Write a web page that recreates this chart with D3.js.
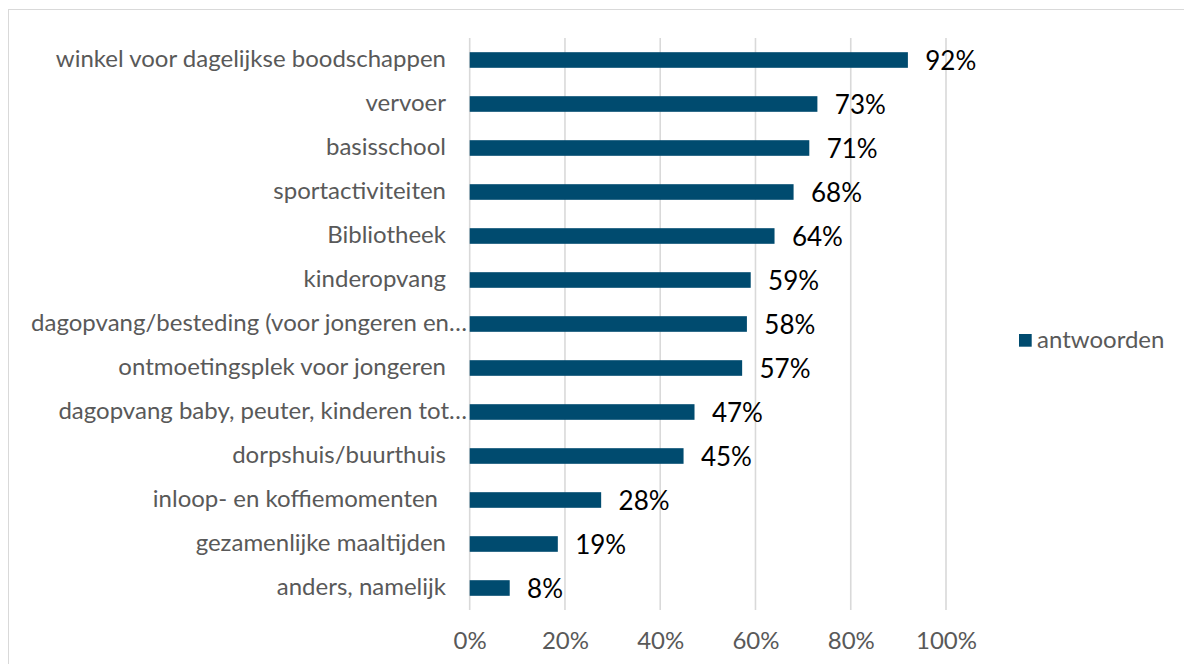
<!DOCTYPE html>
<html>
<head>
<meta charset="utf-8">
<script src="https://cdn.jsdelivr.net/npm/d3@7"></script>
<style>
  html, body { margin: 0; padding: 0; background: #fff; }
  svg { display: block; font-family: Lato, "Open Sans", sans-serif; }
</style>
</head>
<body>
<svg id="chart" width="1184" height="664"></svg>
<script>
const categories = [
  "winkel voor dagelijkse boodschappen",
  "vervoer",
  "basisschool",
  "sportactiviteiten",
  "Bibliotheek",
  "kinderopvang",
  "dagopvang/besteding (voor jongeren en…",
  "ontmoetingsplek voor jongeren",
  "dagopvang baby, peuter, kinderen tot…",
  "dorpshuis/buurthuis",
  "inloop- en koffiemomenten ",
  "gezamenlijke maaltijden",
  "anders, namelijk"
];
const values = [92, 73, 71.3, 68, 64, 59, 58.2, 57.2, 47.2, 44.9, 27.6, 18.5, 8.4];
const tickValues = [0, 20, 40, 60, 80, 100];
const seriesName = "antwoorden";

const svg = d3.select("#chart");
const barColor = "#004b6f";
const textGray = "#595959";
const gridColor = "#d9d9d9";

// chart border
svg.append("rect")
  .attr("x", 8.5).attr("y", 9.5)
  .attr("width", 1200).attr("height", 700)
  .attr("fill", "none").attr("stroke", gridColor).attr("stroke-width", 1);

const x = d3.scaleLinear().domain([0, 100]).range([469.7, 946]);
const y = d3.scaleBand().domain(categories).range([38, 610])
  .paddingInner(0.645).paddingOuter(0.3225);

// gridlines
svg.append("g").selectAll("line").data(tickValues).join("line")
  .attr("x1", d => x(d)).attr("x2", d => x(d))
  .attr("y1", 38).attr("y2", 610)
  .attr("stroke", gridColor).attr("stroke-width", 1.6);

// x tick labels
const xAxis = d3.axisBottom(x).tickValues(tickValues).tickSize(0).tickPadding(0)
  .tickFormat(d => d + "%");
const gx = svg.append("g").attr("transform", "translate(0,649)").call(xAxis);
gx.select(".domain").remove();
gx.selectAll("text").attr("font-size", 24).attr("fill", textGray)
  .attr("font-family", "Lato, sans-serif").attr("y", 0).attr("dy", 0);

// y labels
const yAxis = d3.axisLeft(y).tickSize(0).tickPadding(0);
const gy = svg.append("g").attr("transform", "translate(446,0)").call(yAxis);
gy.select(".domain").remove();
gy.selectAll("text").attr("font-size", 24).attr("fill", textGray)
  .attr("font-family", "Lato, sans-serif")
  .attr("x", d => d.endsWith("…") ? 21 : 0)
  .attr("dy", "0.3em")
  .attr("dx", d => d.endsWith(" ") ? -8 : 0)
  .text(d => d.trimEnd());

// bars
svg.append("g").selectAll("rect").data(values).join("rect")
  .attr("x", x(0))
  .attr("y", (d, i) => y(categories[i]))
  .attr("width", d => x(d) - x(0))
  .attr("height", y.bandwidth())
  .attr("fill", barColor);

// value labels
svg.append("g").selectAll("text").data(values).join("text")
  .attr("x", d => x(d) + 17.4)
  .attr("y", (d, i) => y(categories[i]) + y.bandwidth() / 2)
  .attr("dy", "0.38em")
  .attr("font-size", 26).attr("fill", "#000")
  .text(d => Math.round(d) + "%");

// legend
const lg = svg.append("g");
lg.append("rect").attr("x", 1019).attr("y", 334).attr("width", 12.7).attr("height", 12.7).attr("fill", barColor);
lg.append("text").attr("x", 1037).attr("y", 348.3)
  .attr("font-size", 24).attr("fill", textGray).text(seriesName);
</script>
</body>
</html>
